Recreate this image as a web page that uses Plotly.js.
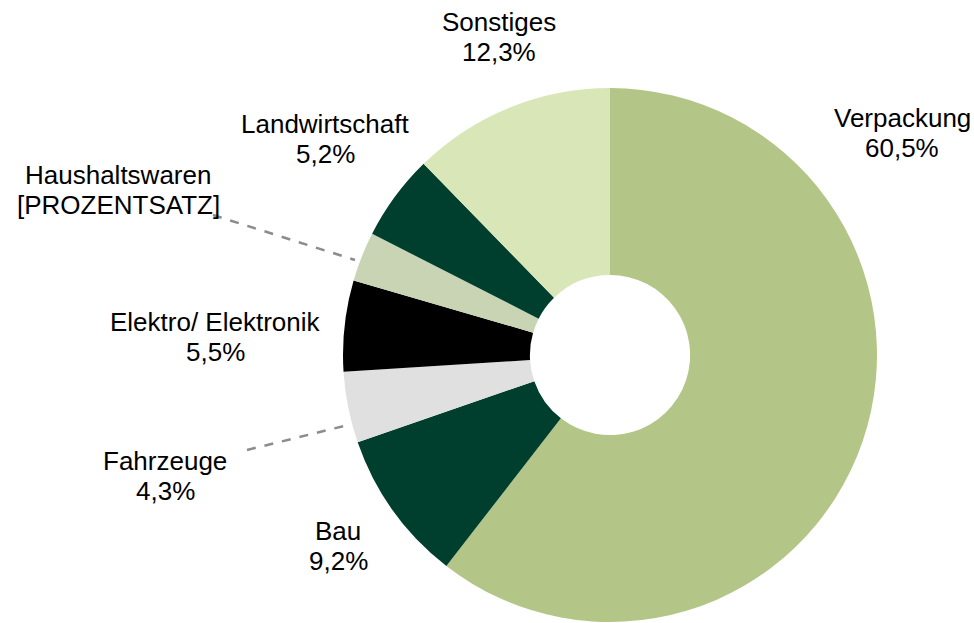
<!DOCTYPE html>
<html>
<head>
<meta charset="utf-8">
<script src="https://cdn.plot.ly/plotly-3.0.1.min.js"></script>
<style>html,body{margin:0;padding:0;background:#fff;}#chart{width:974px;height:623px;}</style>
</head>
<body>
<div id="chart"></div>
<script>
const categories = ["Verpackung", "Bau", "Fahrzeuge", "Elektro/ Elektronik", "Haushaltswaren", "Landwirtschaft", "Sonstiges"];
const values = [60.5, 9.2, 4.3, 5.5, 3.0, 5.2, 12.3];
const valueLabels = ["60,5%", "9,2%", "4,3%", "5,5%", "[PROZENTSATZ]", "5,2%", "12,3%"];
const colors = ["#b3c687", "#003f2d", "#e0e0e0", "#000000", "#c8d4b4", "#003f2d", "#d8e6b8"];

const W = 974, H = 623;
const cx = 610, cy = 355, R = 267;
// label placement (pixel centers)
const labelPos = [[902, 133], [338, 546], [165, 476], [215, 337], [118, 190], [325, 139], [499, 37]];
const lineGap = 30;

const font = {family: "Liberation Sans, Arial, sans-serif", size: 26, color: "#000"};
const annotations = [];
categories.forEach((c, i) => {
  [[c, -lineGap / 2], [valueLabels[i], lineGap / 2]].forEach(([t, off]) => {
    annotations.push({
      text: t,
      x: labelPos[i][0] / W, y: 1 - (labelPos[i][1] + off) / H,
      xref: "paper", yref: "paper", showarrow: false,
      xanchor: "center", yanchor: "middle", font: font
    });
  });
});

const leaders = [[[213, 215], [355, 260]], [[247, 450], [348, 425]]];
const shapes = leaders.map(l => ({
  type: "line", xref: "paper", yref: "paper",
  x0: l[0][0] / W, y0: 1 - l[0][1] / H, x1: l[1][0] / W, y1: 1 - l[1][1] / H,
  line: {color: "#8c8c8c", width: 2.5, dash: "dash"}
}));

const trace = {
  type: "pie",
  labels: categories,
  values: values,
  hole: 0.3,
  sort: false,
  direction: "clockwise",
  rotation: 0,
  textinfo: "none",
  hoverinfo: "label+percent",
  marker: {colors: colors, line: {width: 0}},
  domain: {x: [(cx - R) / W, (cx + R) / W], y: [(H - cy - R) / H, (H - cy + R) / H]},
  showlegend: false
};

Plotly.newPlot("chart", [trace], {
  width: W, height: H,
  margin: {l: 0, r: 0, t: 0, b: 0},
  paper_bgcolor: "#fff",
  showlegend: false,
  annotations: annotations,
  shapes: shapes
}, {displayModeBar: false, staticPlot: true});
</script>
</body>
</html>
